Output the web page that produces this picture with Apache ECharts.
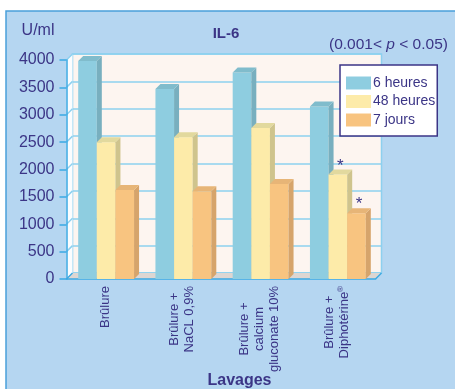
<!DOCTYPE html>
<html>
<head>
<meta charset="utf-8">
<script src="https://cdn.jsdelivr.net/npm/echarts@6/dist/echarts.min.js"></script>
<style>
  html, body { margin: 0; padding: 0; background: #fff; }
  #chart { width: 455px; height: 389px; }
</style>
</head>
<body>
<div id="chart"></div>
<script>
// data
const categories = ['Brûlure', 'Brûlure +\nNaCL 0,9%', 'Brûlure +\ncalcium\ngluconate 10%', 'Brûlure +\nDiphotérine®'];
const seriesNames = ['6 heures', '48 heures', '7 jours'];
const values6h = [3980, 3470, 3770, 3150];
const values48h = [2500, 2590, 2760, 1910];
const values7j = [1625, 1605, 1735, 1200];
const stars6h = ['', '', '', ''];
const stars48h = ['', '', '', '*'];
const stars7j = ['', '', '', '*'];
const yTicks = [0, 500, 1000, 1500, 2000, 2500, 3000, 3500, 4000];
const yMax = 4000;

const textColor = '#3b3586';
const axisBlue = '#3aa9e3';
const gridBlue = '#8dd0ef';
const font = 'Liberation Sans, Arial, sans-serif';
const WALL_D = 6;   // depth of the back wall
const BAR_D = 5;    // depth of a column

const chart = echarts.init(document.getElementById('chart'));

// 3d-ish column drawn from the axis scales
function columnRenderer(k, colors, stars) {
  return function (params, api) {
    const cat = api.value(0);
    const val = api.value(1);
    const catW = api.size([1, 0])[0];
    const w = catW * 0.241;
    const base = api.coord([cat, 0]);
    const top = api.coord([cat, val]);
    const x0 = base[0] + (k - 1.5) * w + 1;
    const x1 = x0 + w;
    const yb = base[1], yt = top[1], d = BAR_D;
    const children = [
      {type: 'rect', shape: {x: x0, y: yt, width: w, height: yb - yt}, style: {fill: colors[0]}},
      {type: 'polygon', shape: {points: [[x1, yt], [x1 + d, yt - d], [x1 + d, yb - d], [x1, yb]]}, style: {fill: colors[1]}},
      {type: 'polygon', shape: {points: [[x0, yt], [x0 + d, yt - d], [x1 + d, yt - d], [x1, yt]]}, style: {fill: colors[2]}}
    ];
    const s = stars[params.dataIndex];
    if (s) {
      children.push({
        type: 'text',
        style: {text: s, x: (x0 + x1) / 2 + d / 2, y: yt - d + 5, align: 'center', verticalAlign: 'bottom',
          fontSize: 17, fontFamily: font, fill: textColor}
      });
    }
    return {type: 'group', children: children};
  };
}

// left wall, floor and the wall's diagonal tick lines
function frameRenderer(params, api) {
  const catW = api.size([1, 0])[0];
  const c0 = api.coord([0, 0]);
  const xl = c0[0] - catW / 2;
  const xr = xl + catW * categories.length;
  const y0 = c0[1];
  const yt = api.coord([0, yMax])[1];
  const d = WALL_D;
  const children = [
    {type: 'polygon', shape: {points: [[xl, y0], [xl, yt], [xl + d, yt - d], [xl + d, y0 - d]]}, style: {fill: '#fbfdff'}},
    {type: 'polygon', shape: {points: [[xl, y0], [xr, y0], [xr + d, y0 - d], [xl + d, y0 - d]]}, style: {fill: '#ddd6d2'}},
    {type: 'line', shape: {x1: xr, y1: y0, x2: xr + d, y2: y0 - d}, style: {stroke: axisBlue, lineWidth: 1.5}}
  ];
  yTicks.forEach(function (t) {
    const y = api.coord([0, t])[1];
    children.push({type: 'line', shape: {x1: xl, y1: y, x2: xl + d, y2: y - d},
      style: {stroke: t === 0 ? axisBlue : gridBlue, lineWidth: 1.5}});
  });
  return {type: 'group', children: children};
}

function catLabel(v) {
  return v.split('\n').map(function (line) {
    return line.indexOf('®') >= 0
      ? '{c|' + line.replace('®', '') + '}{r|®}'
      : '{c|' + line + '}';
  }).join('\n');
}

const option = {
  backgroundColor: '#fff',
  animation: false,
  graphic: [
    {type: 'rect', z: -10, silent: true, shape: {x: 6, y: 11, width: 460, height: 390},
      style: {fill: '#b5d6f1', stroke: '#4aa0da', lineWidth: 1.5}},
    {type: 'text', left: 329, top: 37, silent: true,
      style: {text: '{n|(0.001< }{i|p}{n| < 0.05)}', rich: {
        n: {fontSize: 15.5, fontFamily: font, fill: textColor},
        i: {fontSize: 15.5, fontFamily: font, fontStyle: 'italic', fill: textColor}
      }}}
  ],
  title: {
    text: 'IL-6', left: 221, top: 21, textAlign: 'center',
    textStyle: {fontSize: 15, fontWeight: 'bold', fontFamily: font, color: textColor}
  },
  legend: {
    orient: 'vertical', left: 340, top: 65,
    padding: [11, 2, 9, 6], itemWidth: 25, itemHeight: 13, itemGap: 4.5,
    backgroundColor: '#fff', borderColor: textColor, borderWidth: 1.5, borderRadius: 0,
    icon: 'rect',
    textStyle: {fontSize: 14, fontFamily: font, color: textColor, padding: [0, 0, 0, -3]},
    data: seriesNames
  },
  grid: [
    {left: 66.5, top: 60, width: 309, height: 219, outerBoundsMode: 'none'},
    {left: 72.5, top: 54, width: 309, height: 219, outerBoundsMode: 'none', show: true,
      backgroundColor: '#fdf5f0', borderColor: gridBlue, borderWidth: 1.5}
  ],
  xAxis: [
    {type: 'category', gridIndex: 0, data: categories, z: 2,
      name: 'Lavages', nameLocation: 'middle', nameGap: 94, nameMoveOverlap: false,
      nameTextStyle: {fontSize: 16, fontWeight: 'bold', fontFamily: font, color: textColor, padding: [0, 0, 0, 37]},
      axisLine: {lineStyle: {color: axisBlue, width: 1.5}},
      axisTick: {show: false},
      axisLabel: {interval: 0, rotate: 90, margin: 7, align: 'right', verticalAlign: 'middle', formatter: catLabel,
        rich: {
          c: {align: 'center', fontSize: 13, lineHeight: 15, fontFamily: font, color: textColor},
          r: {align: 'center', fontSize: 8, lineHeight: 15, fontFamily: font, color: textColor, verticalAlign: 'top'}
        }}},
    {type: 'category', gridIndex: 1, data: categories, show: false}
  ],
  yAxis: [
    {type: 'value', gridIndex: 0, min: 0, max: yMax, interval: 500, z: 2,
      name: 'U/ml', nameLocation: 'end', nameGap: 21, nameMoveOverlap: false,
      nameTextStyle: {fontSize: 16, fontFamily: font, color: textColor, align: 'right', padding: [0, 12, 0, 0]},
      axisLine: {show: true, lineStyle: {color: axisBlue, width: 1.5}},
      axisTick: {show: true, length: 7, lineStyle: {color: axisBlue, width: 1.5}},
      axisLabel: {fontSize: 16, fontFamily: font, color: textColor, margin: 12,
        formatter: function (v) { return String(v); }},
      splitLine: {show: false}},
    {type: 'value', gridIndex: 1, min: 0, max: yMax, interval: 500,
      axisLine: {show: false}, axisTick: {show: false}, axisLabel: {show: false},
      splitLine: {show: true, lineStyle: {color: gridBlue, width: 1.5}}}
  ],
  series: [
    {type: 'custom', name: 'frame', xAxisIndex: 0, yAxisIndex: 0, z: 1,
      renderItem: frameRenderer, data: [[0, 0]], silent: true},
    {type: 'custom', name: seriesNames[0], xAxisIndex: 0, yAxisIndex: 0, z: 3,
      itemStyle: {color: '#8ecde0'},
      renderItem: columnRenderer(0, ['#8ecde0', '#78afbf', '#80bccc'], stars6h),
      data: values6h.map(function (v, i) { return [i, v]; })},
    {type: 'custom', name: seriesNames[1], xAxisIndex: 0, yAxisIndex: 0, z: 3,
      itemStyle: {color: '#fdeba9'},
      renderItem: columnRenderer(1, ['#fdeba9', '#cfc48d', '#e2d99e'], stars48h),
      data: values48h.map(function (v, i) { return [i, v]; })},
    {type: 'custom', name: seriesNames[2], xAxisIndex: 0, yAxisIndex: 0, z: 3,
      itemStyle: {color: '#f8c480'},
      renderItem: columnRenderer(2, ['#f8c480', '#d6a46b', '#e7b577'], stars7j),
      data: values7j.map(function (v, i) { return [i, v]; })}
  ]
};

chart.setOption(option);
</script>
</body>
</html>
